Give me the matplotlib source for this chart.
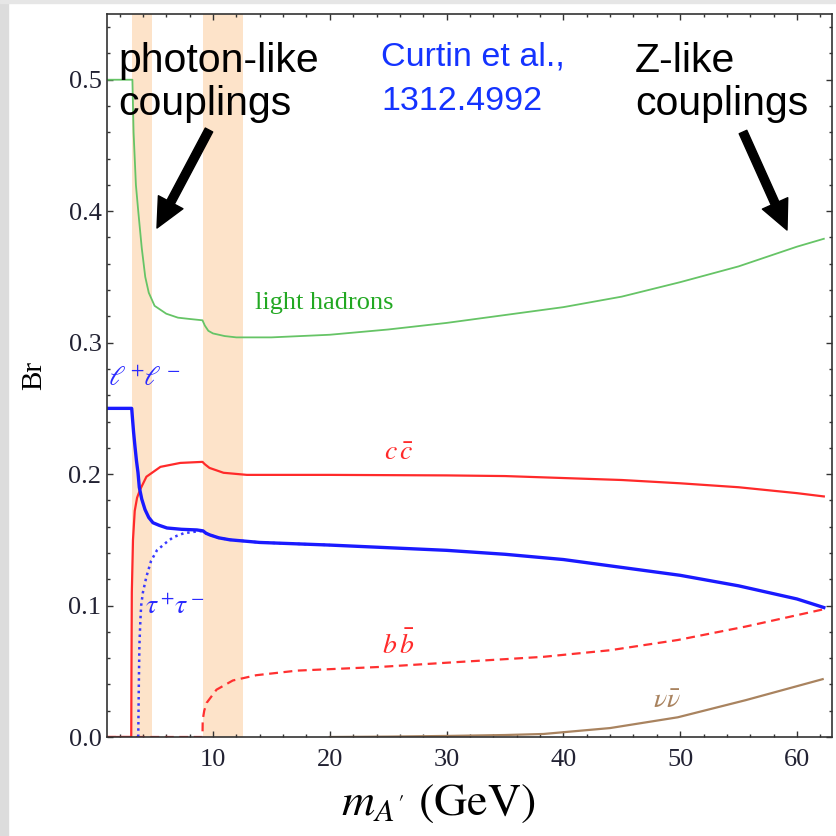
import matplotlib
matplotlib.use("Agg")
import matplotlib.pyplot as plt
from matplotlib.patches import Rectangle
from matplotlib.ticker import MultipleLocator

plt.rcParams['mathtext.fontset'] = 'stix'

# branching ratios vs. dark photon mass (GeV)
m_had = [0.93, 3.1, 3.2, 3.4, 3.6, 3.9, 4.2, 4.5, 5.0, 6.0, 7.0, 8.0, 9.1, 9.3, 9.6, 10.0,
         11.0, 12.0, 15.0, 20.0, 25.0, 30.0, 35.0, 40.0, 45.0, 50.0, 55.0, 60.0, 62.3]
br_had = [0.5, 0.5, 0.46, 0.42, 0.40, 0.372, 0.35, 0.338, 0.328, 0.322, 0.319, 0.318, 0.317,
          0.313, 0.309, 0.307, 0.305, 0.304, 0.304, 0.306, 0.310, 0.315, 0.321, 0.327, 0.335,
          0.346, 0.358, 0.373, 0.379]

m_ll = [0.93, 3.04, 3.1, 3.2, 3.32, 3.45, 3.58, 3.69, 3.9, 4.18, 4.5, 4.86, 5.4, 6.06, 7.3,
        8.63, 9.15, 9.4, 9.74, 10.5, 11.45, 14.0, 20.0, 25.0, 30.0, 35.0, 40.0, 45.0, 50.0,
        55.0, 60.0, 62.3]
br_ll = [0.25, 0.25, 0.243, 0.232, 0.221, 0.21, 0.201, 0.19, 0.181, 0.173, 0.167, 0.163,
         0.161, 0.159, 0.158, 0.1575, 0.1568, 0.155, 0.1537, 0.1515, 0.150, 0.148, 0.146,
         0.144, 0.142, 0.139, 0.135, 0.129, 0.123, 0.115, 0.105, 0.0985]

m_tau = [3.6, 3.65, 3.7, 3.78, 3.85, 4.0, 4.3, 4.7, 5.2, 6.0, 6.6, 7.5, 8.3, 9.15, 9.4, 9.74,
         10.5, 11.45, 14.0, 20.0]
br_tau = [0.0, 0.04, 0.07, 0.088, 0.1, 0.11, 0.122, 0.134, 0.142, 0.148, 0.152, 0.155, 0.156,
          0.1568, 0.155, 0.1537, 0.1515, 0.150, 0.148, 0.146]

m_cc = [0.93, 3.0, 3.02, 3.05, 3.15, 3.3, 3.5, 3.75, 4.3, 5.5, 7.2, 9.1, 9.3, 9.7, 10.9,
        12.9, 20.0, 30.0, 35.0, 40.0, 45.0, 50.0, 55.0, 60.0, 62.3]
br_cc = [0.0, 0.0, 0.05, 0.11, 0.15, 0.172, 0.182, 0.188, 0.198, 0.2055, 0.2085, 0.2093,
         0.2075, 0.2047, 0.201, 0.1994, 0.1994, 0.199, 0.1985, 0.197, 0.1955, 0.193, 0.19,
         0.1855, 0.183]

m_bb = [0.93, 9.1, 9.12, 9.25, 9.46, 10.3, 11.7, 13.7, 17.2, 24.3, 30.0, 38.3, 44.0, 49.8,
        55.6, 62.2]
br_bb = [0.0, 0.0, 0.013, 0.02, 0.026, 0.036, 0.043, 0.047, 0.0505, 0.0533, 0.0565, 0.061,
         0.066, 0.0738, 0.084, 0.097]

m_nn = [20.0, 25.0, 30.0, 35.0, 38.3, 44.0, 49.8, 55.6, 62.2]
br_nn = [0.0, 0.0003, 0.0008, 0.0015, 0.0023, 0.0068, 0.015, 0.028, 0.044]

# mass windows highlighted as bands
bands = [(3.07, 4.78), (9.15, 12.57)]

fig = plt.figure(figsize=(8.36, 8.36), dpi=100)
fig.patches.append(Rectangle((0, 0), 8 / 836, 1, transform=fig.transFigure,
                             color='#dcdcdc', zorder=0))
fig.patches.append(Rectangle((0, 1 - 3 / 836), 1, 3 / 836, transform=fig.transFigure,
                             color='#e6e6e6', zorder=0))
ax = fig.add_axes([107 / 836, 99 / 836, 725 / 836, 723 / 836])

for lo, hi in bands:
    ax.axvspan(lo, hi, color='#fde3c9', lw=0, zorder=0)

ax.plot(m_had, br_had, color='#66c466', lw=1.3)
ax.plot(m_cc, br_cc, color='#ff2a2a', lw=1.6)
ax.plot(m_bb, br_bb, color='#ff3030', lw=1.6, ls=(0, (4, 2.5)))
ax.plot(m_nn, br_nn, color='#a9835f', lw=1.6)
ax.plot(m_tau, br_tau, color='#3a3aff', lw=1.8, ls=(0, (1, 1.5)))
ax.plot(m_ll, br_ll, color='#1a1aff', lw=2.4)

serif = 'Liberation Serif'
ax.text(13.6, 0.330, 'light hadrons', color='#22a822', fontsize=19, family=serif,
        va='center')
ax.text(1.0, 0.273, r'$\ell^+\!\ell^-$', color='#2a2aff', fontsize=20, va='center')
ax.text(24.6, 0.217, r'$c\,\bar{c}$', color='#ff2a2a', fontsize=20, va='center')
ax.text(4.2, 0.100, r'$\tau^+\!\tau^-$', color='#2a2aff', fontsize=20, va='center')
ax.text(24.5, 0.070, r'$b\,\bar{b}$', color='#ff2a2a', fontsize=20, va='center')
ax.text(47.7, 0.028, r'$\nu\bar{\nu}$', color='#a9835f', fontsize=20, va='center')

ax.set_xlim(0.925, 63.0)
ax.set_ylim(0, 0.55)
ax.xaxis.set_major_locator(MultipleLocator(10))
ax.xaxis.set_minor_locator(MultipleLocator(2))
ax.yaxis.set_major_locator(MultipleLocator(0.1))
ax.yaxis.set_minor_locator(MultipleLocator(0.02))
ax.xaxis.set_major_formatter(lambda v, p: '%d' % v)
ax.yaxis.set_major_formatter(lambda v, p: '%.1f' % v)
ax.tick_params(which='both', direction='in', top=True, right=True, width=1.0,
               color='#333333')
ax.tick_params(which='major', length=4)
ax.tick_params(which='minor', length=2.5)
ax.tick_params(axis='x', pad=9)
ax.tick_params(axis='y', pad=4)
for lab in ax.get_xticklabels() + ax.get_yticklabels():
    lab.set_family(serif)
    lab.set_fontsize(19)
    lab.set_color('#222233')
for sp in ax.spines.values():
    sp.set_linewidth(1.2)
    sp.set_color('#333333')

ax.set_ylabel('Br', family=serif, fontsize=21, labelpad=15)
ax.set_xlabel(r'$m_{A^{\prime}}$ (GeV)', family='STIXGeneral', fontsize=33, labelpad=6)
ax.xaxis.set_label_coords(0.457, -0.063, transform=ax.transAxes)
ax.xaxis.label.set_va('top')

sans = 'Liberation Sans'
fig.text(118 / 836, 1 - 42 / 836, 'photon-like\ncouplings', family=sans, fontsize=29.5,
         va='top', linespacing=1.18)
fig.text(381 / 836, 1 - 41 / 836, 'Curtin et al.,\n1312.4992', family=sans, fontsize=24.5,
         color='#1433ff', va='top', linespacing=1.6)
fig.text(635 / 836, 1 - 42 / 836, 'Z-like\ncouplings', family=sans, fontsize=29.5,
         va='top', linespacing=1.18)

arrow = dict(facecolor='black', edgecolor='black', width=6, headwidth=20, headlength=21)
ax.annotate('', xy=(157 / 836, 1 - 228 / 836), xytext=(209 / 836, 1 - 130 / 836),
            xycoords='figure fraction', textcoords='figure fraction', arrowprops=arrow)
ax.annotate('', xy=(787 / 836, 1 - 230 / 836), xytext=(743 / 836, 1 - 132 / 836),
            xycoords='figure fraction', textcoords='figure fraction', arrowprops=arrow)

fig.savefig('out.png', dpi=100)
